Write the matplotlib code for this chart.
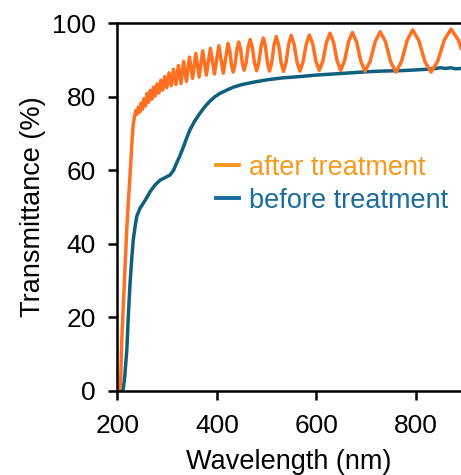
import matplotlib
matplotlib.use("Agg")
import matplotlib.pyplot as plt
from matplotlib.lines import Line2D

plt.rcParams['font.family'] = ['Liberation Sans', 'DejaVu Sans']

# after treatment (orange): absorption edge, then interference fringes
after_wl = [200, 204, 206.5, 209, 212, 215.5, 219, 222, 225, 227.5, 230, 232, 234.5,
            237, 239.6, 242.3, 245, 247.8, 250.7, 253.6, 256.6, 259.7, 262.8, 266, 269.3,
            272.7, 276.2, 279.8, 283.5, 287.3, 291.2, 295.2, 299.5, 303.8, 308.3, 312.9,
            317.7, 322.7, 328, 333.3, 339, 345, 351.3, 357.7, 364.5, 371.6, 379, 387,
            395.3, 404, 413, 422.5, 426, 429.5, 433, 436.7, 440.3, 444, 447.7, 451.3,
            455, 459, 463, 467, 471.3, 475.7, 480, 484.5, 489, 493.5, 497.7, 501.8,
            506, 510.5, 515, 519.5, 524.3, 529.2, 534, 539.2, 544.3, 549.5, 555.3, 561.2,
            567, 573.3, 579.7, 586, 592.7, 599.3, 606, 613.2, 620.3, 627.5, 634.7, 641.8,
            649, 656.8, 664.7, 672.5, 681, 689.5, 698, 708.2, 718.4, 728.6, 739.1, 749.5,
            760, 771.2, 782.5, 793.7, 806, 818.2, 830.5, 843.9, 857.3, 870.7, 885.4, 891]
after_T = [0, 0, 2, 14, 23, 33.5, 44, 51, 57.5, 63, 69, 72.5, 74.5,
           76.2, 75.2, 77.2, 75.8, 78.3, 76.6, 79.5, 77.5, 80.9, 78.5, 81.7, 79.3,
           82.6, 80.2, 83.5, 81.0, 84.5, 81.8, 85.5, 82.5, 86.5, 83.0, 87.5,
           83.3, 88.5, 83.6, 89.6, 84.2, 90.8, 85.0, 91.8, 85.4, 92.5, 85.9, 93.2,
           86.2, 93.9, 86.4, 94.5, 92.55, 88.65, 86.7, 88.75, 92.85, 94.9, 92.98, 89.13,
           87.2, 89.3, 93.5, 95.6, 93.48, 89.23, 87.1, 89.33, 93.78, 96.0, 93.75, 89.25,
           87.0, 89.35, 94.05, 96.4, 94.03, 89.28, 86.9, 89.35, 94.25, 96.7, 94.28, 89.43,
           87.0, 89.45, 94.35, 96.8, 94.4, 89.6, 87.2, 89.73, 94.78, 97.3, 94.78, 89.73,
           87.2, 89.78, 94.93, 97.5, 94.88, 89.63, 87.0, 89.68, 95.03, 97.7, 94.95, 89.45,
           86.7, 89.58, 95.33, 98.2, 95.33, 89.58, 86.7, 89.63, 95.48, 98.4, 95.5, 93.2]

# before treatment (blue)
before_wl = [200, 205, 210, 212, 215, 219, 222, 225.5, 229, 232, 236, 239, 245, 252,
             259, 266, 276, 286, 296, 306, 313, 319, 326, 333, 340, 346, 356, 366,
             376, 386, 396, 406, 420, 433, 450, 475, 500, 530, 567, 600, 634, 668,
             701, 735, 768, 800, 835, 850, 860, 870, 880, 891]
before_T = [0, 0, 0, 0.5, 4, 11, 20, 29, 36, 41, 45, 47.4, 49.5, 51,
            52.5, 54.2, 56, 57.3, 58, 58.7, 60, 61.9, 64, 66.4, 69, 71, 73.5, 75.5,
            77.3, 78.8, 80, 80.9, 81.8, 82.6, 83.3, 84, 84.6, 85.1, 85.5, 85.9, 86.2, 86.5,
            86.8, 87.0, 87.1, 87.3, 87.6, 87.9, 87.7, 87.9, 87.6, 87.7]

labels = ['after treatment', 'before treatment']
line_colors = ['#FF7020', '#0F5F7F']
legend_colors = ['#F59A1E', '#1A6C9E']

fig = plt.figure(figsize=(4.61, 4.75), dpi=100)
ax = fig.add_axes([0.2545, 0.1775, 0.7455, 0.7735])

ax.plot(before_wl, before_T, color=line_colors[1], lw=2.5, solid_joinstyle='round')
ax.plot(after_wl, after_T, color=line_colors[0], lw=2.5, solid_joinstyle='round')

ax.set_xlim(200, 890.8)
ax.set_ylim(0, 100)
ax.set_xticks([200, 400, 600, 800])
ax.set_yticks([0, 20, 40, 60, 80, 100])
ax.spines['right'].set_visible(False)
for s in ['left', 'bottom', 'top']:
    ax.spines[s].set_linewidth(1.8)
ax.tick_params(direction='out', length=6.5, width=1.8, labelsize=19)
ax.tick_params(axis='x', pad=10)
ax.tick_params(axis='y', pad=9)
ax.set_xlabel('Wavelength (nm)', fontsize=19.5, labelpad=8)
ax.set_ylabel('Transmittance (%)', fontsize=19.5, labelpad=4)

handles = [Line2D([], [], color=c, lw=2.8) for c in legend_colors]
leg = ax.legend(handles, labels, loc='upper left', bbox_to_anchor=(0.286, 0.642),
                frameon=False, fontsize=19.5, handlelength=0.85, handletextpad=0.4,
                labelspacing=0.25, borderpad=0, borderaxespad=0)
for t, c in zip(leg.get_texts(), legend_colors):
    t.set_color(c)

fig.savefig('out.png', dpi=100)
